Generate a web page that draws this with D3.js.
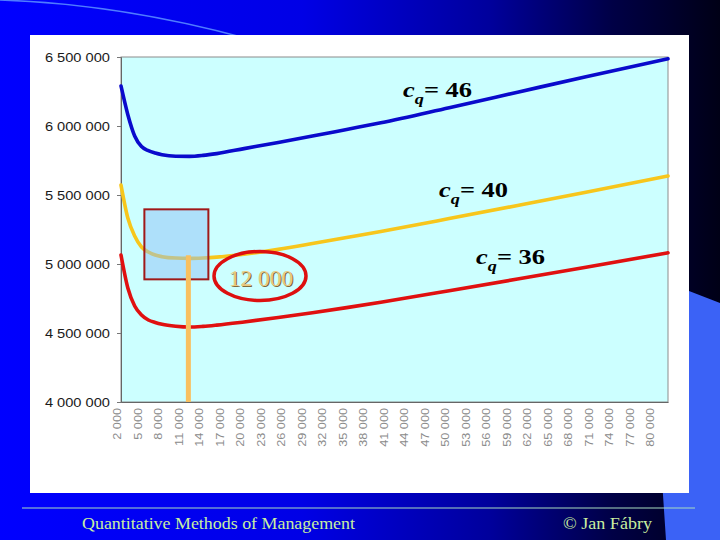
<!DOCTYPE html>
<html><head><meta charset="utf-8">
<script src="https://cdn.jsdelivr.net/npm/d3@7"></script>
<style>body{margin:0;background:#0000ff}svg{display:block}</style>
</head><body><svg id="c" width="720" height="540"></svg>
<script>
// ---- data ----
const categories = d3.range(2000, 82001, 1000);           // order quantity q (category axis)
const tickLabels = [2000,5000,8000,11000,14000,17000,20000,23000,26000,29000,32000,35000,38000,41000,44000,47000,50000,53000,56000,59000,62000,65000,68000,71000,74000,77000,80000];
const yTicks = [4000000,4500000,5000000,5500000,6000000,6500000];
const qPoints = [2000,3000,4000,5000,6000,7000,8000,10000,12000,14000,16000,20000,25000,30000,35000,40000,50000,60000,70000,82000];
const cost46 = [6290000,6082000,5928000,5851000,5821000,5804000,5792000,5781000,5780000,5787000,5800000,5836000,5881000,5927000,5975000,6023000,6133000,6245000,6357000,6487000];
const cost40 = [5572000,5333000,5203000,5123000,5087000,5065000,5053000,5043000,5041000,5044000,5050000,5071000,5106000,5148000,5192000,5236000,5329000,5424000,5520000,5638000];
const cost36 = [5065000,4826000,4696000,4630000,4594000,4576000,4563000,4549000,4543000,4548000,4557000,4580000,4612000,4647000,4684000,4723000,4806000,4891000,4977000,5081000];
const seriesPrices = ["46","40","36"];
const seriesColors = ["#0a0acc","#f7c61c","#e01010"];
const optimalQ = 12000;
const optimalLabel = "12 000";
const footerLeft = "Quantitative Methods of Management";
const footerRight = "© Jan Fábry";

const svg = d3.select("#c");
const W = 720, H = 540;

// ---- slide background ----
const defs = svg.append("defs");
const g1 = defs.append("linearGradient").attr("id","bg").attr("x1","0").attr("x2","1").attr("y1","0").attr("y2","0");
[[0,"#0000ff"],[0.42,"#0000e6"],[0.68,"#00009c"],[0.85,"#000046"],[1,"#000016"]]
  .forEach(([o,c]) => g1.append("stop").attr("offset",o).attr("stop-color",c));
svg.append("rect").attr("width",W).attr("height",H).attr("fill","url(#bg)");
svg.append("path").attr("d","M0,0 Q120,4 245,38").attr("fill","none").attr("stroke","#4f7cff").attr("stroke-width",1.5);
svg.append("path").attr("d","M640,272 L720,303 L720,540 L666,540 L662,480 Z").attr("fill","#3b62f6");

// white chart panel
svg.append("rect").attr("x",30).attr("y",35).attr("width",659).attr("height",458).attr("fill","#ffffff");

// ---- scales ----
const x = d3.scalePoint().domain(categories).range([121, 668]);
const y = d3.scaleLinear().domain([4000000, 6500000]).range([402, 57]);
const fmt = d3.formatLocale({thousands:" ", decimal:",", grouping:[3], currency:["",""]}).format(",");

// plot area
svg.append("rect").attr("x",121).attr("y",57).attr("width",547).attr("height",345)
  .attr("fill","#ccffff").attr("stroke","#8c8c8c").attr("stroke-width",1);

// axes
const stretch = function(f) {
  return function() {
    const n = this, l = n.getComputedTextLength();
    d3.select(n).attr("textLength", l * f).attr("lengthAdjust","spacingAndGlyphs");
  };
};
const yAxis = svg.append("g").attr("transform","translate(121,0)")
  .call(d3.axisLeft(y).tickValues(yTicks).tickSize(4).tickPadding(7).tickFormat(fmt));
yAxis.select(".domain").attr("stroke","#666");
yAxis.selectAll(".tick line").attr("stroke","#777");
yAxis.selectAll("text").attr("font-family","Liberation Sans, Arial, sans-serif").attr("font-size",13.2).attr("fill","#1a1a1a")
  .each(stretch(1.11));

const xAxis = svg.append("g").attr("transform","translate(0,402)")
  .call(d3.axisBottom(x).tickValues(tickLabels).tickSize(0).tickFormat(fmt));
xAxis.select(".domain").attr("stroke","#666");
xAxis.selectAll("text")
  .attr("font-family","Liberation Sans, Arial, sans-serif").attr("font-size",10).attr("fill","#8a8a8a")
  .attr("transform","rotate(-90)").attr("text-anchor","end")
  .attr("x",-6).attr("y",-0.5).attr("dy","0")
  .each(stretch(1.27));

// ---- lines ----
const line = d3.line().x(d => x(d[0])).y(d => y(d[1])).curve(d3.curveMonotoneX);
[cost46, cost40, cost36].forEach((vals, i) => {
  svg.append("path").datum(qPoints.map((q, j) => [q, vals[j]]))
    .attr("d", line).attr("fill","none").attr("stroke", seriesColors[i])
    .attr("stroke-width", 3.6).attr("stroke-linejoin","round").attr("stroke-linecap","round");
});

// ---- annotations ----
const optX = x(optimalQ);
const optY = y(cost40[qPoints.indexOf(optimalQ)]);
svg.append("rect").attr("x", optX - 45).attr("y", optY - 49).attr("width", 64).attr("height", 70)
  .attr("fill","#90c1f5").attr("fill-opacity",0.5).attr("stroke","#a01818").attr("stroke-width",2);
svg.append("line").attr("x1", optX - 1).attr("x2", optX - 1).attr("y1", optY - 3).attr("y2", y(4000000))
  .attr("stroke","#f8c060").attr("stroke-width",5);

svg.append("ellipse").attr("cx",260).attr("cy",276).attr("rx",46).attr("ry",24.5)
  .attr("fill","none").attr("stroke","#dd0f0f").attr("stroke-width",3.5);
svg.append("text").attr("x",262).attr("y",287).attr("text-anchor","middle")
  .attr("font-family","Liberation Serif, Times New Roman, serif").attr("font-size",23.5)
  .attr("fill","#7d6a3c").text(optimalLabel);
svg.append("text").attr("x",261).attr("y",286).attr("text-anchor","middle")
  .attr("font-family","Liberation Serif, Times New Roman, serif").attr("font-size",23.5)
  .attr("fill","#ebc97e").text(optimalLabel);

const labelPos = [[403,97],[439,197],[476,264]];
seriesPrices.forEach((p, i) => {
  const g = svg.append("g").attr("transform", `translate(${labelPos[i][0]},${labelPos[i][1]}) scale(1.26,1)`);
  const t = g.append("text").attr("font-family","Liberation Serif, Times New Roman, serif")
    .attr("font-weight","bold").attr("font-size",21).attr("fill","#000");
  t.append("tspan").attr("font-style","italic").text("c");
  t.append("tspan").attr("font-style","italic").attr("font-size",14.5).attr("dy",7).text("q");
  t.append("tspan").attr("dy",-7).text("= " + p);
});

// ---- footer ----
svg.append("line").attr("x1",22).attr("x2",695).attr("y1",508).attr("y2",508)
  .attr("stroke","#a8dcc0").attr("stroke-width",1);
svg.append("text").attr("x",82).attr("y",529).attr("font-family","Liberation Serif, Times New Roman, serif")
  .attr("font-size",17.5).attr("fill","#c8eea0").attr("textLength",273).attr("lengthAdjust","spacingAndGlyphs").text(footerLeft);
svg.append("text").attr("x",563).attr("y",529).attr("font-family","Liberation Serif, Times New Roman, serif")
  .attr("font-size",17.5).attr("fill","#c8eea0").attr("textLength",89).attr("lengthAdjust","spacingAndGlyphs").text(footerRight);
</script></body></html>
